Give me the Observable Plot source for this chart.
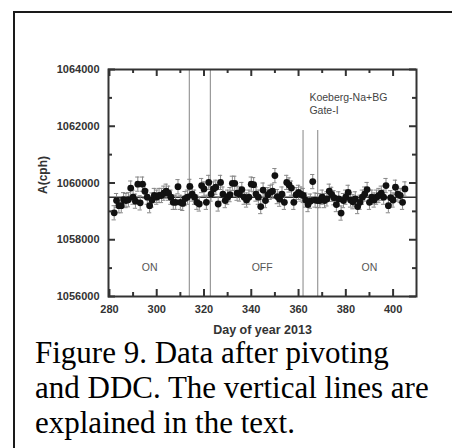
<!DOCTYPE html>
<html><head><meta charset="utf-8">
<script src="https://cdn.jsdelivr.net/npm/d3@7"></script>
<script src="https://cdn.jsdelivr.net/npm/@observablehq/plot@0.6"></script>
<style>
body{margin:0;background:#fff;width:452px;height:448px;overflow:hidden;position:relative;}
#border{position:absolute;left:13px;top:11px;width:460px;height:460px;border:2px solid #1a1a1a;}
#chart{position:absolute;left:0;top:0;}
#caption{position:absolute;left:35px;top:335px;font-family:"Liberation Serif","Times New Roman",serif;font-size:31px;line-height:35px;color:#000;white-space:nowrap;}
</style></head><body>
<div id="border"></div>
<div id="chart"></div>
<div id="caption">Figure 9. Data after pivoting<br>and DDC. The vertical lines are<br>explained in the text.</div>
<script>
const days = [282,283,284,285,286,287,288,289,290,291,292,293,294,295,296,297,298,299,300,301,
302,303,304,305,306,307,308,309,310,311,312,313,314,315,316,317,318,319,320,321,
322,323,324,325,326,327,328,329,330,331,332,333,334,335,336,337,338,339,340,341,
342,343,344,345,346,347,348,349,350,351,352,353,354,355,356,357,358,359,360,361,
362,363,364,365,366,367,368,369,370,371,372,373,374,375,376,377,378,379,380,381,
382,383,384,385,386,387,388,389,390,391,392,393,394,395,396,397,398,399,400,401,
402,403,404,405];
const values = [1058950,1059380,1059200,1059200,1059410,1059380,1059410,1059820,1059500,1059360,
1059960,1059300,1059960,1059710,1059500,1059200,1059400,1059560,1059500,1059560,
1059560,1059640,1059710,1059640,1059500,1059320,1059320,1059870,1059320,1059280,
1059450,
1059500,1059880,1059610,1059500,1059320,1059260,1059910,1059790,1059320,1060020,
1059610,1059790,1059850,1059260,1060020,1059610,1059380,1059500,1059590,1059990,
1059990,1059640,1059610,1059770,1059500,1059400,1059500,1059960,1059940,1059610,
1059500,
1059170,1059750,1059380,1059590,1059670,1059710,1060260,1059520,1059430,1059610,
1059320,1060020,1059930,1059820,1059320,1059590,1059670,1059610,1059560,1059400,
1059240,1059360,1060050,1059400,1059380,1059380,1059500,1059380,1059440,1059710,
1059600,
1059480,1059240,1059440,1058940,1059380,1059500,1059670,1059400,1059340,1059440,
1059170,1059320,1059500,1059610,1059770,1059320,1059500,1059400,1059500,1059560,
1059640,1059500,1059910,1059200,1059480,
1059400,
1059850,1059610,1059560,1059320,1059790];
const errorBar = 250;
const meanLevel = 1059500;
const markerDays = [313.8, 322.7, 361.9, 368.1];
const markerTops = [1064000, 1064000, 1061850, 1061850];
const regionText = ["ON", "OFF", "ON"];
const regionX = [297, 344.6, 390];
const regionY = [1057020, 1057020, 1057020];
const annText = ["Koeberg-Na+BG", "Gate-I"];
const annX = [364.6, 364.6];
const annY = [1063010, 1062550];
const xTicks = [280, 300, 320, 340, 360, 380, 400];
const xMinor = [290, 310, 330, 350, 370, 390];
const yTicks = [1056000, 1058000, 1060000, 1062000, 1064000];
const yMinor = [1057000, 1059000, 1061000, 1063000];
const xDomain = [279.6, 409.9];
const yDomain = [1056000, 1064000];
const xLabel = "Day of year 2013";
const yLabel = "A(cph)";

const points = days.map((d, i) => ({day: d, value: values[i]}));
const markers = markerDays.map((d, i) => ({day: d, top: markerTops[i]}));
const H = 345, mT = 69, mB = 49, mL = 108, mR = 36;
const innerH = H - mT - mB, innerW = 452 - mL - mR;
const tickColor = "#333";

const chart = Plot.plot({
  width: 452, height: H,
  marginLeft: mL, marginRight: mR, marginTop: mT, marginBottom: mB,
  style: {fontFamily: "'Liberation Sans', Arial, sans-serif", background: "transparent", overflow: "visible"},
  x: {domain: xDomain},
  y: {domain: yDomain},
  marks: [
    Plot.ruleX(markers, {x: "day", y1: yDomain[0], y2: "top", stroke: "#999", strokeWidth: 1.2}),
    Plot.ruleY([meanLevel], {stroke: "#333", strokeWidth: 1.5}),
    Plot.ruleX(points, {x: "day", y1: d => d.value - errorBar, y2: d => d.value + errorBar, stroke: "#888", strokeWidth: 1}),
    Plot.ruleY(points, {y: d => d.value + errorBar, x1: d => d.day - 0.9, x2: d => d.day + 0.9, stroke: "#888", strokeWidth: 1}),
    Plot.ruleY(points, {y: d => d.value - errorBar, x1: d => d.day - 0.9, x2: d => d.day + 0.9, stroke: "#888", strokeWidth: 1}),
    Plot.dot(points, {x: "day", y: "value", r: 3.4, fill: "#111", stroke: "none"}),
    Plot.text(regionText, {x: regionX, y: regionY, text: d => d, fontSize: 10.5, fill: "#555"}),
    Plot.text(annText, {x: annX, y: annY, text: d => d, textAnchor: "start", fontSize: 10.5, fill: "#444"}),
    Plot.ruleX(xTicks, {x: d => d, insetTop: innerH - 7, stroke: tickColor, strokeWidth: 2}),
    Plot.ruleX(xTicks, {x: d => d, insetBottom: innerH - 7, stroke: tickColor, strokeWidth: 2}),
    Plot.ruleX(xMinor, {x: d => d, insetTop: innerH - 4, stroke: tickColor, strokeWidth: 2}),
    Plot.ruleX(xMinor, {x: d => d, insetBottom: innerH - 4, stroke: tickColor, strokeWidth: 2}),
    Plot.ruleY(yTicks, {y: d => d, insetRight: innerW - 7, stroke: tickColor, strokeWidth: 2}),
    Plot.ruleY(yTicks, {y: d => d, insetLeft: innerW - 7, stroke: tickColor, strokeWidth: 2}),
    Plot.ruleY(yMinor, {y: d => d, insetRight: innerW - 4, stroke: tickColor, strokeWidth: 2}),
    Plot.ruleY(yMinor, {y: d => d, insetLeft: innerW - 4, stroke: tickColor, strokeWidth: 2}),
    Plot.frame({stroke: "#333", strokeWidth: 2}),
    Plot.axisX({ticks: xTicks, tickSize: 0, tickPadding: 9, tickFormat: d => String(d), fontSize: 11, fontWeight: "bold", fill: "#333", label: null}),
    Plot.axisY({ticks: yTicks, tickSize: 0, tickPadding: 9, tickFormat: d => String(d), fontSize: 11, fontWeight: "bold", fill: "#333", label: null}),
    Plot.text([xLabel], {frameAnchor: "bottom", text: d => d, dy: 37, lineAnchor: "bottom", fontSize: 12.5, fontWeight: "bold", fill: "#333"}),
    Plot.text([yLabel], {frameAnchor: "left", text: d => d, rotate: -90, dx: -65, dy: 11, fontSize: 12, fontWeight: "bold", fill: "#333"})
  ]
});
document.getElementById("chart").appendChild(chart);
</script>
</body></html>
